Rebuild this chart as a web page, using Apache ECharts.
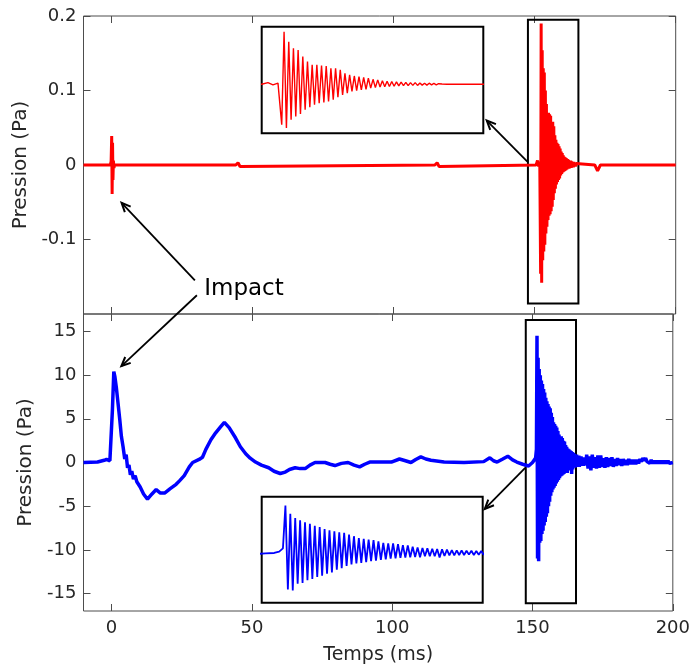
<!DOCTYPE html>
<html><head><meta charset="utf-8">
<script src="https://cdn.jsdelivr.net/npm/echarts@6/dist/echarts.min.js"></script>
<style>html,body{margin:0;padding:0;background:#fff}#c{width:693px;height:666px}</style>
</head><body><div id="c"></div><script>
// ---------------- data ----------------
const xTicks = [0, 50, 100, 150, 200];
const topYTicks = [-0.1, 0, 0.1, 0.2];
const bottomYTicks = [-15, -10, -5, 0, 5, 10, 15];

// red (top) signal, time in ms
const redPre = [[-10,0],[-0.5,0],[-0.2,0.005],[0,0.039],[0.15,-0.039],[0.3,0.03],[0.45,-0.02],[0.6,0.006],[0.8,-0.004],[1.0,0],
  [44,0],[44.8,0.003],[45.5,-0.002],[46.2,0],[114.6,0],[115.4,0.003],[116.1,-0.002],[116.8,0],
  [150.5,0],[151.0,0.006],[151.4,-0.002],[151.8,0.004]];
const redBurstStart = 152.1, redBurstStep = 0.187;
const redBurstLower = [-0.146,-0.158,-0.128,-0.116,-0.107,-0.092,-0.083,-0.074,-0.068,-0.066,-0.062,-0.056,-0.047,-0.038,-0.032,-0.026,-0.023,-0.020,-0.018,-0.014,-0.012,-0.010,-0.009,-0.008,-0.007,-0.006,-0.005,-0.005,-0.004,-0.004,-0.003,-0.003,-0.002,-0.002];
const redBurstUpper = [0.190,0.154,0.130,0.124,0.100,0.082,0.070,0.070,0.068,0.066,0.058,0.058,0.052,0.040,0.034,0.030,0.028,0.025,0.022,0.018,0.016,0.013,0.011,0.010,0.009,0.008,0.007,0.006,0.006,0.005,0.004,0.004,0.003,0.002];
const redPost = [[164.9,0.001],[165.3,0],[171.3,0],[172.3,-0.008],[173.3,0],[200,0]];

// blue (bottom) signal
const bluePre = [[-10,0],[-5,0.05],[-2.6,0.25],[-1.8,0.35],[-0.6,0.2],[-0.1,0],[0.3,6],[0.8,10.4],[1.2,9.8],[1.7,8.6],[2.3,6.8],[2.9,5.0],[3.5,3.0],[4.1,1.8],[4.7,0.4],[5.2,0.9],[5.7,-0.6],[6.2,-0.3],[6.7,-1.4],[7.2,-1.0],[7.8,-1.9],[8.4,-1.5],[9.0,-2.2],[9.6,-2.0],[10.2,-2.8],[10.8,-2.6],[11.4,-3.6],[12.1,-3.7],[12.8,-4.2],[13.4,-4.1],[14.4,-3.6],[15.9,-3.1],[17.4,-3.5],[18.9,-3.5],[20.9,-3.0],[23.0,-2.5],[24.2,-2.1],[25.9,-1.5],[27.7,-0.5],[28.9,0],[31.2,0.35],[32.4,0.6],[33.6,1.5],[35.4,2.6],[37.1,3.4],[38.9,4.1],[40.2,4.6],[41.9,4.0],[44.2,2.8],[45.9,1.8],[47.8,1.0],[49.4,0.5],[51.3,0.05],[53.4,-0.3],[56,-0.6],[57.9,-1.0],[60.1,-1.26],[61.9,-1.1],[63.4,-0.8],[65.4,-0.6],[67.2,-0.7],[69,-0.7],[70.7,-0.3],[72.5,0],[76.1,0],[77.9,-0.2],[79.6,-0.35],[81.9,-0.1],[84.3,0],[86.4,-0.3],[88.4,-0.5],[90.2,-0.2],[92,0.05],[99.7,0.05],[102.6,0.4],[104.7,0.2],[106.7,0],[108.4,0.35],[110.2,0.65],[112,0.4],[113.8,0.25],[118.5,0.05],[125.6,0],[132.6,0.1],[134.8,0.54],[136.1,0.2],[137.4,0.05],[139.4,0.4],[141.2,0.72],[142.9,0.3],[144.4,0.05],[146.5,-0.2],[148.6,-0.4],[150.0,0],[150.7,0.1],[151.1,0.5],[151.4,1.5]];
const blueBurstStart = 151.6, blueBurstStep = 0.196;
const blueBurstUpper = [14.5,12.0,10.7,10.0,9.4,9.0,8.4,8.0,7.4,7.0,6.7,6.4,6.2,5.7,5.2,4.6,4.4,4.2,4.0,3.6,3.2,3.0,3.0,2.8,2.5,2.4,2.0,1.8,1.6,1.5,1.4,1.3,1.2,1.1,1.0,0.9,0.9,0.8,0.8,0.7,0.7,0.6,0.6,0.6,0.5];
const blueBurstLower = [-11.0,-11.3,-9.2,-9.0,-8.2,-7.8,-7.2,-6.8,-6.2,-5.8,-5.0,-4.5,-3.8,-3.4,-3.1,-2.9,-2.7,-2.4,-2.2,-2.0,-1.8,-1.6,-1.5,-1.4,-1.3,-1.2,-1.1,-1.2,-0.9,-0.9,-0.9,-1.3,-0.8,-0.6,-0.6,-0.5,-0.5,-0.4,-0.5,-0.4,-0.4,-0.3,-0.4,-0.3,-0.3];
const blueTailStart = 169.3, blueTailStep = 0.5;
const blueTailUpper = [0.9,0.7,0.9,0.6,0.8,0.8,0.5,0.6,0.5,0.6,0.4,0.5,0.4,0.4,0.3,0.4,0.3,0.3,0.3,0.4,0.5,0.5,0.3,0.3,0.2,0.2,0.2,0.2,0.2,0.2];
const blueTailLower = [-0.7,-0.9,-0.6,-0.7,-0.6,-0.5,-0.6,-0.5,-0.4,-0.5,-0.4,-0.3,-0.4,-0.3,-0.3,-0.2,-0.2,-0.2,-0.1,0.1,0.2,0.1,-0.1,-0.1,-0.1,-0.1,-0.1,-0.1,-0.1,-0.1];
const bluePost = [[200,0]];

// zoom rectangles (data units)
const redBox = [[147.6,-0.186],[165.5,0.195]];
const blueBox = [[147.6,-16.1],[165.5,16.3]];
// inset windows (data units)
const redInsetX = [150.5, 168.2], redInsetY = [-0.177, 0.208];
const blueInsetX = [149.7, 167.4], blueInsetY = [-15.0, 17.2];

// annotations (data units)
const annotLabel = 'Impact';
const annotText = {grid: 0, at: [32.8, -0.166]};
const arrows = [
  {grid: 0, from: [29.5, -0.1548], to: [3.5, -0.0507]},
  {grid: 1, from: [30.4, 19.15], to: [3.5, 11.04]},
  {grid: 0, from: [147.4, 0.0044], to: [133.0, 0.0596]},
  {grid: 1, from: [147.4, -0.61], to: [133.0, -5.31]}
];

// ---------------- build ----------------
function interleave(start, step, first, second) {
  const out = [];
  for (let i = 0; i < first.length; i++) {
    out.push([start + 2 * i * step, first[i]]);
    if (i < second.length) out.push([start + (2 * i + 1) * step, second[i]]);
  }
  return out;
}
const redData = redPre.concat(interleave(redBurstStart, redBurstStep, redBurstLower, redBurstUpper), redPost);
const blueData = bluePre.concat(
  interleave(blueBurstStart, blueBurstStep, blueBurstUpper, blueBurstLower),
  interleave(blueTailStart, blueTailStep, blueTailUpper, blueTailLower),
  bluePost);

const FONT = 'DejaVu Sans';
const AX = '#4d4d4d', TXT = '#262626';

function axis(o) {
  const base = {
    type: 'value', axisLine: {show: false, onZero: false}, splitLine: {show: false},
    axisTick: {show: true, inside: true, length: 7, lineStyle: {color: AX, width: 1}},
    axisLabel: {show: false}
  };
  const r = Object.assign({}, base, o);
  if (o.ticks) { r.axisTick = Object.assign({}, base.axisTick, {customValues: o.ticks}); delete r.ticks; }
  return r;
}
const hidden = (mn, mx, gi) => ({type: 'value', gridIndex: gi, min: mn, max: mx, show: false, axisLine: {onZero: false}, splitLine: {show: false}});

const GL = 83.5, GW = 592.2;
const option = {
  animation: false,
  backgroundColor: '#fff',
  textStyle: {fontFamily: FONT},
  grid: [
    {left: GL, top: 16, width: GW, height: 298, show: true, borderColor: AX, borderWidth: 1, backgroundColor: 'rgba(0,0,0,0)'},
    {left: GL, top: 314, width: GW, height: 297, show: true, borderColor: AX, borderWidth: 1, backgroundColor: 'rgba(0,0,0,0)'},
    {left: 261.7, top: 26.7, width: 221.6, height: 106.6, show: true, borderColor: '#000', borderWidth: 2, backgroundColor: '#fff', z: 3},
    {left: 261.7, top: 496.7, width: 221.0, height: 106.0, show: true, borderColor: '#000', borderWidth: 2, backgroundColor: '#fff', z: 3}
  ],
  xAxis: [
    axis({gridIndex: 0, min: -10, max: 200, position: 'bottom', ticks: xTicks}),
    axis({gridIndex: 0, min: -10, max: 200, position: 'top', ticks: xTicks}),
    axis({gridIndex: 1, min: -10, max: 200, position: 'bottom', ticks: xTicks,
      axisLabel: {show: true, customValues: xTicks, color: TXT, fontSize: 18, fontFamily: FONT, margin: 8},
      name: 'Temps (ms)', nameLocation: 'middle', nameGap: 35,
      nameTextStyle: {color: TXT, fontSize: 19, fontFamily: FONT}}),
    axis({gridIndex: 1, min: -10, max: 200, position: 'top', ticks: xTicks}),
    hidden(redInsetX[0], redInsetX[1], 2),
    hidden(blueInsetX[0], blueInsetX[1], 3)
  ],
  yAxis: [
    axis({gridIndex: 0, min: -0.2, max: 0.2, position: 'left', ticks: topYTicks,
      axisLabel: {show: true, customValues: topYTicks, color: TXT, fontSize: 18, fontFamily: FONT, margin: 7},
      name: 'Pression (Pa)', nameLocation: 'middle', nameGap: 45, nameRotate: 90,
      nameTextStyle: {color: TXT, fontSize: 20, fontFamily: FONT}}),
    axis({gridIndex: 0, min: -0.2, max: 0.2, position: 'right', ticks: topYTicks}),
    axis({gridIndex: 1, min: -17, max: 17, position: 'left', ticks: bottomYTicks,
      axisLabel: {show: true, customValues: bottomYTicks, color: TXT, fontSize: 18, fontFamily: FONT, margin: 7},
      name: 'Pression (Pa)', nameLocation: 'middle', nameGap: 45, nameRotate: 90,
      nameTextStyle: {color: TXT, fontSize: 20, fontFamily: FONT}}),
    axis({gridIndex: 1, min: -17, max: 17, position: 'right', ticks: bottomYTicks}),
    hidden(redInsetY[0], redInsetY[1], 2),
    hidden(blueInsetY[0], blueInsetY[1], 3)
  ],
  series: [
    {type: 'line', xAxisIndex: 0, yAxisIndex: 0, data: redData, showSymbol: false, symbol: 'none',
      lineStyle: {color: '#ff0000', width: 3}, silent: true, z: 2,
      markArea: {silent: true, itemStyle: {color: 'rgba(0,0,0,0)', borderColor: '#000', borderWidth: 2},
        data: [[{coord: redBox[0]}, {coord: redBox[1]}]]}},
    {type: 'line', xAxisIndex: 2, yAxisIndex: 2, data: blueData, showSymbol: false, symbol: 'none',
      lineStyle: {color: '#0000ff', width: 3.5}, silent: true, z: 2,
      markArea: {silent: true, itemStyle: {color: 'rgba(0,0,0,0)', borderColor: '#000', borderWidth: 2},
        data: [[{coord: blueBox[0]}, {coord: blueBox[1]}]]}},
    {type: 'line', xAxisIndex: 4, yAxisIndex: 4, data: redData, showSymbol: false, symbol: 'none',
      lineStyle: {color: '#ff0000', width: 1.4}, silent: true, z: 4},
    {type: 'line', xAxisIndex: 5, yAxisIndex: 5, data: blueData, showSymbol: false, symbol: 'none',
      lineStyle: {color: '#0000ff', width: 1.8}, silent: true, z: 4}
  ]
};
const chart = echarts.init(document.getElementById('c'));
chart.setOption(option);

// annotations placed through the chart's own scales
function px(grid, p) {
  const g = grid === 0 ? {xAxisIndex: 0, yAxisIndex: 0} : {xAxisIndex: 2, yAxisIndex: 2};
  return chart.convertToPixel(g, p);
}
const graphics = [];
arrows.forEach(a => {
  const f = px(a.grid, a.from), t = px(a.grid, a.to);
  const dx = t[0] - f[0], dy = t[1] - f[1], L = Math.hypot(dx, dy);
  const ux = dx / L, uy = dy / L, nx = -uy, ny = ux;
  const hl = 9, hw = 4;
  graphics.push({type: 'polyline', silent: true, z: 10, shape: {points: [f, t]}, style: {stroke: '#000', lineWidth: 1.8, fill: null}});
  graphics.push({type: 'polyline', silent: true, z: 10,
    shape: {points: [[t[0] - hl * ux + hw * nx, t[1] - hl * uy + hw * ny], t, [t[0] - hl * ux - hw * nx, t[1] - hl * uy - hw * ny]]},
    style: {stroke: '#000', lineWidth: 2, fill: null, lineJoin: 'miter'}});
});
const tp = px(annotText.grid, annotText.at);
graphics.push({type: 'text', silent: true, z: 10, x: tp[0], y: tp[1],
  style: {text: annotLabel, fill: '#000', font: '23px "DejaVu Sans"', textAlign: 'left', textVerticalAlign: 'middle'}});
chart.setOption({graphic: graphics});
</script></body></html>
